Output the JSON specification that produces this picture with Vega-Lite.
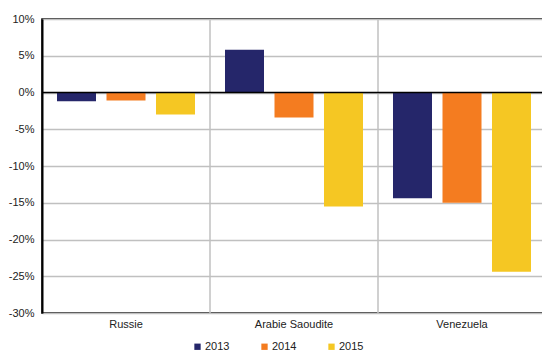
{
  "$schema": "https://vega.github.io/schema/vega-lite/v6.json",
  "autosize": "none",
  "padding": {"left": 42, "top": 19, "right": 0, "bottom": 38},
  "width": 504,
  "height": 294,
  "background": "white",
  "config": {
    "font": "Liberation Sans",
    "view": {"stroke": "black", "strokeWidth": 1.5},
    "axis": {"labelFont": "Liberation Sans", "labelFontSize": 11, "labelColor": "#222", "ticks": false, "domainColor": "black", "domainWidth": 2}
  },
  "resolve": {"scale": {"x": "independent"}, "axis": {"x": "independent"}},
  "layer": [
    {
      "data": {"values": [{"country": "Arabie Saoudite"}, {"country": "Venezuela"}]},
      "mark": {"type": "rule", "color": "#c0c0c0", "strokeWidth": 1.5},
      "encoding": {
        "x": {"field": "country", "type": "nominal", "bandPosition": 0, "axis": null,
          "scale": {"domain": ["Russie", "Arabie Saoudite", "Venezuela"], "paddingInner": 0, "paddingOuter": 0}}
      }
    },
    {
      "data": {"values": [
        {"country": "Russie", "year": "2013", "value": -1.2},
        {"country": "Russie", "year": "2014", "value": -1.1},
        {"country": "Russie", "year": "2015", "value": -3.0},
        {"country": "Arabie Saoudite", "year": "2013", "value": 5.8},
        {"country": "Arabie Saoudite", "year": "2014", "value": -3.4},
        {"country": "Arabie Saoudite", "year": "2015", "value": -15.5},
        {"country": "Venezuela", "year": "2013", "value": -14.4},
        {"country": "Venezuela", "year": "2014", "value": -15.0},
        {"country": "Venezuela", "year": "2015", "value": -24.4}
      ]},
      "mark": {"type": "bar"},
      "encoding": {
        "x": {
          "field": "country", "type": "nominal",
          "sort": ["Russie", "Arabie Saoudite", "Venezuela"],
          "scale": {"paddingInner": 0, "paddingOuter": 0},
          "axis": {"title": null, "labelAngle": 0, "labelPadding": 5, "grid": false, "domain": false}
        },
        "xOffset": {
          "field": "year", "type": "nominal",
          "scale": {"paddingInner": 0.212, "paddingOuter": 0.303}
        },
        "y": {
          "field": "value", "type": "quantitative",
          "scale": {"domain": [-30, 10], "nice": false, "zero": false},
          "axis": {
            "title": null,
            "values": [-30, -25, -20, -15, -10, -5, 0, 5, 10],
            "labelExpr": "datum.value + '%'",
            "grid": true, "gridColor": "#c0c0c0", "gridWidth": 1.5,
            "labelPadding": 8
          }
        },
        "color": {
          "field": "year", "type": "nominal",
          "scale": {"domain": ["2013", "2014", "2015"], "range": ["#25266A", "#F47C20", "#F5C723"]},
          "legend": {
            "title": null,
            "orient": "none",
            "legendX": 150,
            "legendY": 322,
            "direction": "horizontal",
            "symbolType": "square",
            "symbolSize": 40,
            "symbolStrokeWidth": 0,
            "labelFontSize": 11,
            "labelFont": "Liberation Sans",
            "labelColor": "#222",
            "labelOffset": 2,
            "columnPadding": 29
          }
        }
      }
    },
    {
      "data": {"values": [{"v": 0}]},
      "mark": {"type": "rule", "color": "black", "strokeWidth": 1.5},
      "encoding": {"y": {"field": "v", "type": "quantitative",
        "scale": {"domain": [-30, 10], "nice": false, "zero": false},
        "axis": {
            "title": null,
            "values": [-30, -25, -20, -15, -10, -5, 0, 5, 10],
            "labelExpr": "datum.value + '%'",
            "grid": true, "gridColor": "#c0c0c0", "gridWidth": 1.5,
            "labelPadding": 8
          }}}
    }
  ]
}
